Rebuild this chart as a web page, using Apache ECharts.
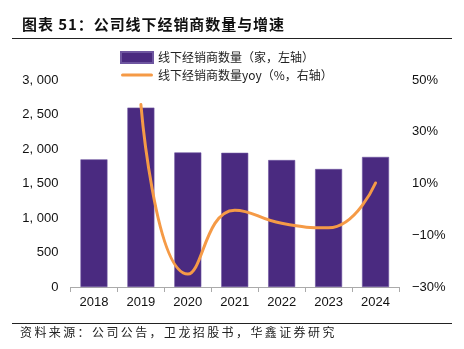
<!DOCTYPE html>
<html>
<head>
<meta charset="utf-8">
<script src="https://cdn.jsdelivr.net/npm/echarts@6/dist/echarts.min.js"></script>
<style>
html,body{margin:0;padding:0;background:#fff;}
#chart{width:464px;height:349px;}
</style>
</head>
<body>
<div id="chart"></div>
<script>
// Offline distributor counts and year-over-year change
const years = ['2018', '2019', '2020', '2021', '2022', '2023', '2024'];
const distributors = [1850, 2600, 1950, 1945, 1840, 1710, 1885];
const yoyPct = [null, 40.5, -25.0, -0.3, -5.4, -7.1, 10.2];
const leftTicks = [0, 500, 1000, 1500, 2000, 2500, 3000];
const rightTicks = [-30, -10, 10, 30, 50];

const barName = '线下经销商数量（家，左轴）';
const lineName = '线下经销商数量yoy（%，右轴）';
const titleText = '图表 51：公司线下经销商数量与增速';
const sourceText = '资料来源：公司公告，卫龙招股书，华鑫证券研究';
const font = '"Noto Sans CJK SC", "Liberation Sans", sans-serif';

// widen character spacing by joining glyphs with thin spaces
const spaced = (s, sep) => Array.from(s).join(sep);

const chart = echarts.init(document.getElementById('chart'));
chart.setOption({
  animation: false,
  textStyle: { fontFamily: font },
  graphic: [
    { type: 'text', left: 22, top: 17, style: { text: spaced(titleText, '\u200A'), font: 'bold 15px ' + font, fill: '#111' } },
    { type: 'line', shape: { x1: 12, y1: 38.5, x2: 452, y2: 38.5 }, style: { stroke: '#222', lineWidth: 1 } },
    { type: 'line', shape: { x1: 12, y1: 323.5, x2: 452, y2: 323.5 }, style: { stroke: '#222', lineWidth: 1 } },
    { type: 'text', left: 20, top: 326, style: { text: spaced(sourceText, '\u2009'), font: '12px ' + font, fill: '#222' } }
  ],
  legend: {
    orient: 'vertical',
    left: 120,
    top: 51,
    padding: 0,
    itemGap: 5,
    itemWidth: 32,
    itemHeight: 11,
    textStyle: { fontSize: 12, color: '#222', fontFamily: font },
    data: [
      { name: barName, icon: 'rect' },
      { name: lineName, icon: 'path://M1.5,0H30.5A1.5,1.5,0,0,1,30.5,3H1.5A1.5,1.5,0,0,1,1.5,0Z' }
    ]
  },
  grid: { left: 70.5, right: 65, top: 80, bottom: 62 },
  xAxis: {
    type: 'category',
    data: years,
    axisLine: { lineStyle: { color: '#aaa' } },
    axisTick: { show: true, lineStyle: { color: '#aaa' } },
    axisLabel: { color: '#111', fontSize: 13, margin: 9, fontFamily: '"Liberation Sans", sans-serif' }
  },
  yAxis: [
    {
      type: 'value', min: leftTicks[0], max: leftTicks[leftTicks.length - 1], interval: 500,
      splitLine: { show: false }, axisLine: { show: false }, axisTick: { show: false },
      axisLabel: {
        color: '#111', fontSize: 13, margin: 12, fontFamily: '"Liberation Sans", sans-serif',
        formatter: v => v >= 1000 ? Math.floor(v / 1000) + ', ' + String(v % 1000).padStart(3, '0') : String(v)
      }
    },
    {
      type: 'value', min: rightTicks[0], max: rightTicks[rightTicks.length - 1], interval: 20,
      splitLine: { show: false }, axisLine: { show: false }, axisTick: { show: false },
      axisLabel: {
        color: '#111', fontSize: 13, margin: 13, fontFamily: '"Liberation Sans", sans-serif',
        formatter: v => (v < 0 ? '\u2212' + Math.abs(v) : v) + '%'
      }
    }
  ],
  series: [
    {
      name: barName, type: 'bar', data: distributors, yAxisIndex: 0,
      barWidth: 27,
      itemStyle: { color: '#4A2A80', borderColor: '#6E56A0', borderWidth: 0.6 }
    },
    {
      name: lineName, type: 'line', data: yoyPct, yAxisIndex: 1,
      smooth: 0.5, showSymbol: false, symbol: 'none', connectNulls: false,
      lineStyle: { color: '#F59A46', width: 3, cap: 'round' },
      itemStyle: { color: '#F59A46' }
    }
  ]
});
</script>
</body>
</html>
